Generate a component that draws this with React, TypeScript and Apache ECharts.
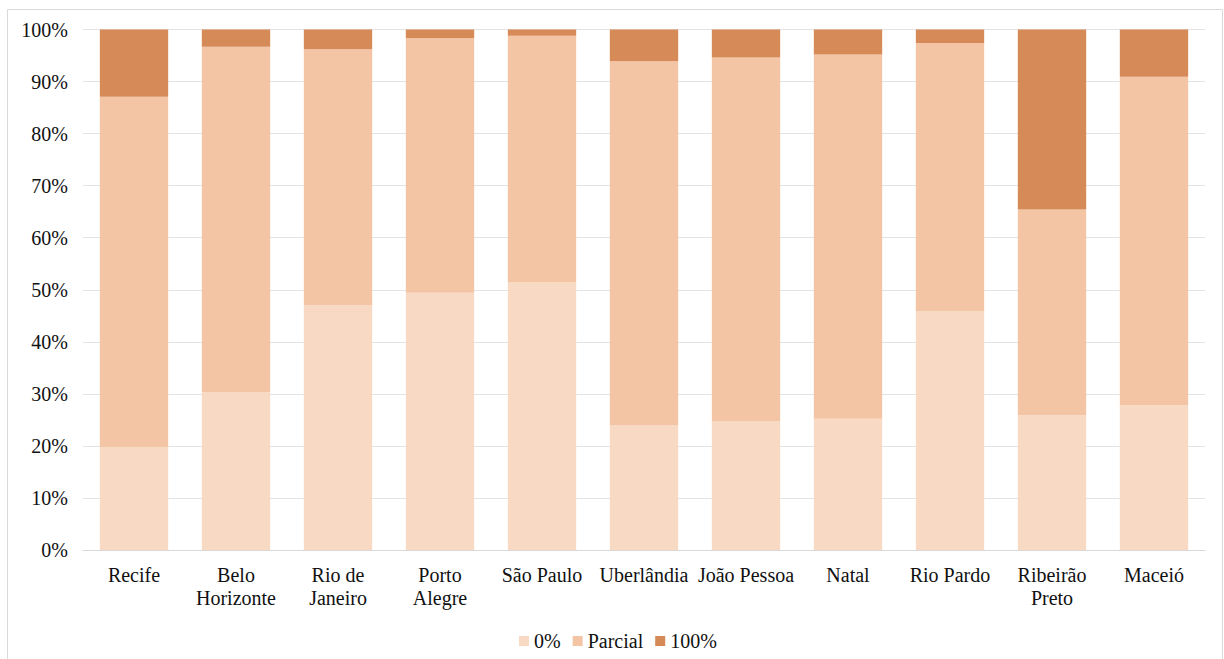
import React, { useEffect, useRef } from "react";
import * as echarts from "echarts";

const categories = [
  "Recife",
  "Belo\nHorizonte",
  "Rio de\nJaneiro",
  "Porto\nAlegre",
  "São Paulo",
  "Uberlândia",
  "João Pessoa",
  "Natal",
  "Rio Pardo",
  "Ribeirão\nPreto",
  "Maceió",
];

const seriesNames = ["0%", "Parcial", "100%"];
const zeroValues = [19.8, 30.3, 47.0, 49.4, 51.5, 24.0, 24.8, 25.2, 45.9, 25.9, 27.8];
const partialValues = [67.3, 66.4, 49.2, 48.9, 47.3, 69.9, 69.8, 70.0, 51.5, 39.5, 63.1];
const fullValues = [12.9, 3.3, 3.8, 1.7, 1.2, 6.1, 5.4, 4.8, 2.6, 34.6, 9.1];
const yTicks = [0, 10, 20, 30, 40, 50, 60, 70, 80, 90, 100];

const colors = ["#F8D9C4", "#F4C5A5", "#D68A57"];
const FONT = "Liberation Serif";

export default function App() {
  const ref = useRef<HTMLDivElement>(null);

  useEffect(() => {
    if (!ref.current) return;
    const chart = echarts.init(ref.current, null, { renderer: "svg" });
    const dataSets = [zeroValues, partialValues, fullValues];
    chart.setOption({
      animation: false,
      backgroundColor: "#ffffff",
      textStyle: { fontFamily: FONT },
      graphic: [
        {
          type: "rect",
          shape: { x: 7.5, y: 9.5, width: 1215, height: 680 },
          style: { fill: "none", stroke: "#d9d9d9", lineWidth: 1 },
          silent: true,
        },
      ],
      legend: {
        data: seriesNames,
        left: 514,
        top: 626,
        icon: "rect",
        itemWidth: 10,
        itemHeight: 10,
        itemGap: 12,
        textStyle: { fontFamily: FONT, fontSize: 20, color: "#111111" },
      },
      grid: {
        left: 83,
        right: 19,
        top: 29.5,
        bottom: 109,
        containLabel: false,
      },
      xAxis: {
        type: "category",
        data: categories,
        axisLine: { show: true, lineStyle: { color: "#d9d9d9", width: 1 } },
        axisTick: { show: false },
        axisLabel: {
          interval: 0,
          margin: 13,
          fontFamily: FONT,
          fontSize: 20,
          lineHeight: 23,
          color: "#111111",
        },
      },
      yAxis: {
        type: "value",
        min: 0,
        max: 100,
        interval: 10,
        axisLine: { show: false },
        axisTick: { show: false },
        splitLine: { show: true, lineStyle: { color: "#e3e3e3", width: 1 } },
        axisLabel: {
          margin: 15,
          fontFamily: FONT,
          fontSize: 20,
          color: "#111111",
          formatter: (v: number) => (yTicks.includes(v) ? `${v}%` : ""),
        },
      },
      series: seriesNames.map((name, i) => ({
        name,
        type: "bar",
        stack: "total",
        data: dataSets[i],
        barCategoryGap: "33%",
        itemStyle: { color: colors[i] },
      })),
    });
    return () => chart.dispose();
  }, []);

  return (
    <div
      ref={ref}
      style={{ position: "fixed", left: 0, top: 0, width: 1224, height: 659 }}
    />
  );
}
